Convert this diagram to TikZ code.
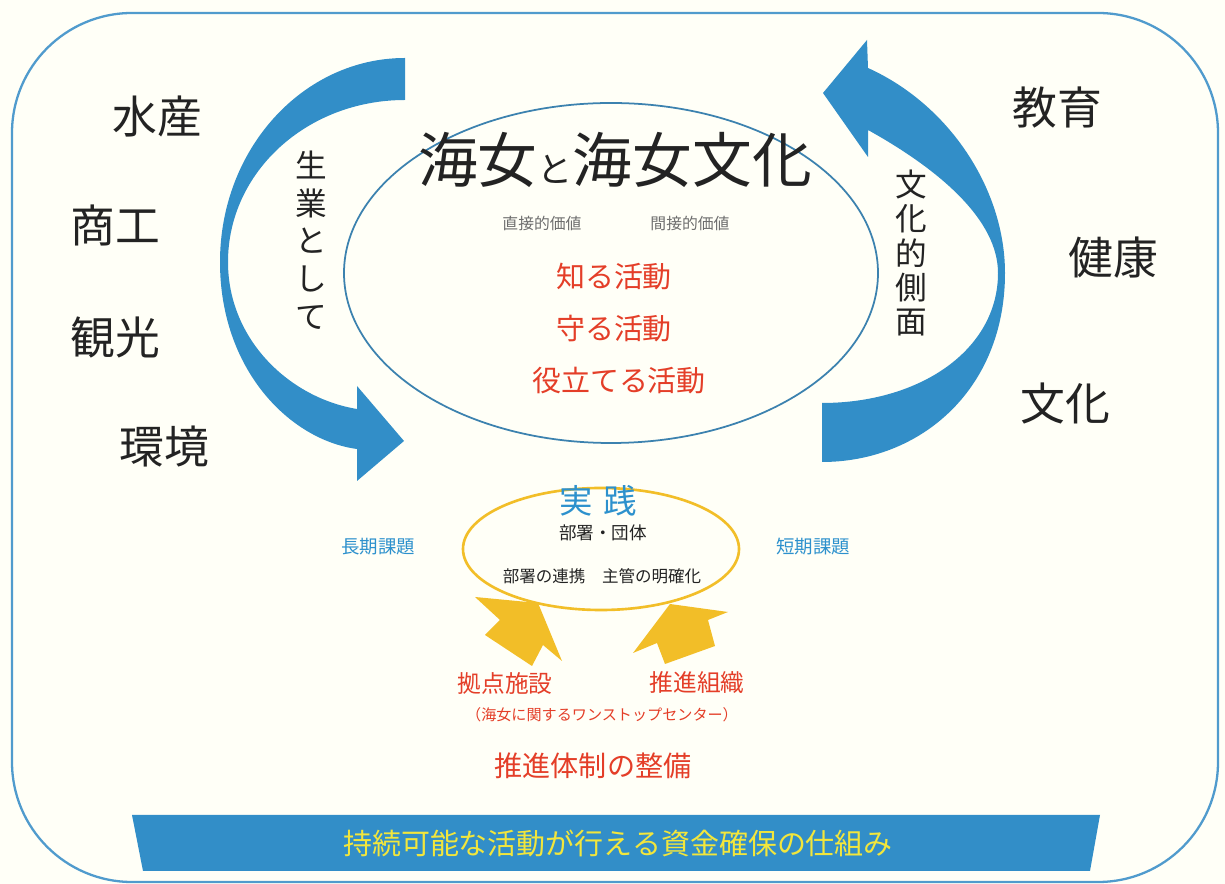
\documentclass[tikz,border=0pt]{standalone}
\usepackage{fontspec}
\setmainfont{Noto Sans CJK JP}
\usetikzlibrary{shapes.geometric}
\definecolor{arrowblue}{RGB}{50,142,200}
\definecolor{borderblue}{RGB}{80,155,205}
\definecolor{ellblue}{RGB}{60,130,175}
\definecolor{redtxt}{RGB}{228,62,40}
\definecolor{graytxt}{RGB}{110,110,110}
\definecolor{darktxt}{RGB}{35,35,35}
\definecolor{ybar}{RGB}{242,230,60}
\definecolor{yarrow}{RGB}{242,190,40}
\definecolor{pracblue}{RGB}{45,145,205}
\tikzset{
  sidelabel/.style={font=\fontsize{25.5}{30}\selectfont, text=darktxt, inner sep=0pt},
  vlabel/.style={align=center, text=darktxt, inner sep=0pt},
  redlabel/.style={font=\fontsize{16.5}{20}\selectfont, text=redtxt, inner sep=0pt},
  smallgray/.style={font=\fontsize{9}{11}\selectfont, text=graytxt, inner sep=0pt},
  tasklabel/.style={font=\fontsize{10.5}{13}\selectfont, text=pracblue, inner sep=0pt},
  bigarrow/.style={fill=arrowblue, draw=none},
  yarrowshape/.style={fill=yarrow, draw=none}
}
\begin{document}
\begin{tikzpicture}[x=0.02cm, y=-0.02cm]
\useasboundingbox (0,0) rectangle (1225,884);
\fill[white!97!yellow] (0,0) rectangle (1225,884);
% outer frame
\draw[borderblue, line width=1.3pt, rounded corners=120*0.02cm] (12,13) rectangle (1218,882);

% main ellipse
\node[ellipse, draw=ellblue, line width=1pt, minimum width=534*0.02cm, minimum height=340*0.02cm, inner sep=0pt] (main) at (611,273) {};

% left crescent arrow
\path[bigarrow] (405,58) .. controls (303,58) and (220,149) .. (220,262)
  .. controls (220,370) and (290,440) .. (357,449)
  -- (357,481) -- (404,441) -- (357,386) -- (357,409)
  .. controls (290,398) and (228,340) .. (228,262)
  .. controls (228,172) and (307,100) .. (405,100) -- cycle;

% right crescent arrow
\path[bigarrow] (822,462) .. controls (920,462) and (1005,390) .. (1005,273)
  .. controls (1005,190) and (950,105) .. (868,68)
  -- (867,40) -- (823,93) -- (868,157) -- (868,130)
  .. controls (940,170) and (998,220) .. (998,273)
  .. controls (998,350) and (920,403) .. (822,403) -- cycle;

% title
\node[inner sep=0pt, text=darktxt] (title) at (615,160)
  {{\fontsize{34}{40}\selectfont 海女}{\fontsize{20}{24}\selectfont と}{\fontsize{34}{40}\selectfont 海女文化}};
\node[smallgray] (direct) at (542,223) {直接的価値};
\node[smallgray] (indirect) at (690,223) {間接的価値};
\node[redlabel] (know) at (614,277) {知る活動};
\node[redlabel] (protect) at (614,329) {守る活動};
\node[redlabel] (use) at (619,381) {役立てる活動};

% vertical labels
\node[vlabel, font=\fontsize{18}{21.5}\selectfont] (nariwai) at (311,240) {生\\業\\と\\し\\て};
\node[vlabel, font=\fontsize{18}{19.6}\selectfont] (bunka) at (911,253) {文\\化\\的\\側\\面};

% side labels
\node[sidelabel] (suisan) at (157,117) {水産};
\node[sidelabel] (shoko) at (115,225) {商工};
\node[sidelabel] (kanko) at (115,338) {観光};
\node[sidelabel] (kankyo) at (164,447) {環境};
\node[sidelabel] (kyoiku) at (1057,108) {教育};
\node[sidelabel] (kenko) at (1113,258) {健康};
\node[sidelabel] (bunka2) at (1065,404) {文化};

% practice ellipse
\node[ellipse, draw=yarrow, line width=1.5pt, minimum width=276*0.02cm, minimum height=122*0.02cm, inner sep=0pt] (prac) at (601,549) {};
\node[inner sep=0pt, text=pracblue, font=\fontsize{19}{22}\selectfont] (jissen) at (598,501) {実\hspace{0.3em}践};
\node[inner sep=0pt, text=darktxt, font=\fontsize{10}{12}\selectfont] (busho) at (603,533) {部署・団体};
\node[inner sep=0pt, text=darktxt, font=\fontsize{9.4}{11}\selectfont] (renkei) at (602,576) {部署の連携　主管の明確化};
\node[tasklabel] (choki) at (378,547) {長期課題};
\node[tasklabel] (tanki) at (813,547) {短期課題};

% yellow arrows
\path[yarrowshape] (538,603) -- (562,661) -- (543,645) -- (532,666) -- (485,635) -- (500,620) -- (475,597) -- cycle;
\path[yarrowshape] (670,604) -- (728,612) -- (708,620) -- (715,646) -- (665,664) -- (657,643) -- (633,653) -- cycle;

% bottom labels
\node[inner sep=0pt, text=redtxt, font=\fontsize{13.5}{16}\selectfont] (kyoten) at (505,683) {拠点施設};
\node[inner sep=0pt, text=redtxt, font=\fontsize{8.6}{10}\selectfont] (onestop) at (602,715) {（海女に関するワンストップセンター）};
\node[inner sep=0pt, text=redtxt, font=\fontsize{13.5}{16}\selectfont] (soshiki) at (697,683) {推進組織};
\node[inner sep=0pt, text=redtxt, font=\fontsize{16}{19}\selectfont] (taisei) at (593,766) {推進体制の整備};

% bottom bar
\path[fill=arrowblue] (132,815) -- (1100,815) -- (1090,871) -- (143,871) -- cycle;
\node[inner sep=0pt, text=ybar, font=\fontsize{16.5}{20}\selectfont] (shikin) at (618,843) {持続可能な活動が行える資金確保の仕組み};
\end{tikzpicture}
\end{document}
